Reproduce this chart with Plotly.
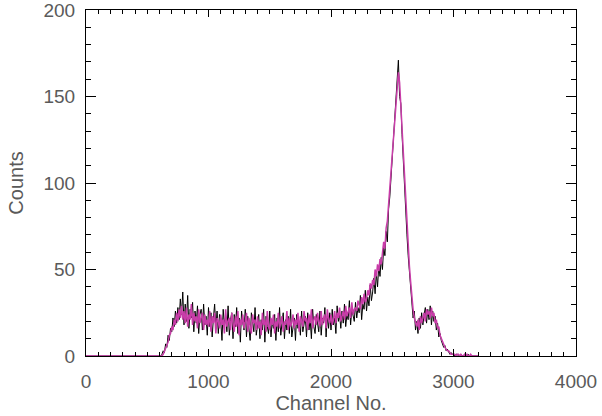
import plotly.graph_objects as go

# Channel numbers: leading zero channel, then every 10 channels from 560 to 3200
channels = [0] + list(range(560, 3201, 10))

# Black spectrum (counts)
counts_black = [0,
    0, 0, 0, 0,
    0, 0, 1, 3, 2, 7, 5, 12, 9, 16,
    14, 22, 17, 26, 19, 28, 21, 33, 24, 37,
    18, 30, 20, 35, 16, 27, 22, 31, 14, 26,
    19, 29, 13, 24, 27, 15, 30, 18, 23, 12,
    28, 17, 25, 11, 22, 30, 16, 26, 13, 24,
    20, 9, 27, 18, 23, 14, 29, 12, 21, 25,
    10, 24, 17, 28, 13, 22, 8, 26, 19, 15,
    27, 11, 23, 16, 9, 25, 20, 14, 28, 12,
    18, 24, 10, 21, 15, 27, 8, 23, 17, 13,
    26, 11, 20, 16, 24, 9, 22, 14, 28, 12,
    19, 25, 10, 21, 15, 23, 13, 27, 11, 18,
    22, 9, 24, 16, 20, 12, 26, 14, 19, 23,
    11, 25, 15, 21, 10, 27, 17, 13, 24, 18,
    14, 26, 12, 22, 19, 28, 11, 23, 16, 25,
    15, 27, 18, 22, 13, 29, 20, 24, 16, 26,
    19, 30, 17, 24, 21, 32, 18, 27, 23, 20,
    31, 22, 28, 25, 35, 21, 30, 27, 38, 26,
    34, 29, 41, 32, 37, 45, 36, 48, 40, 52,
    46, 57, 50, 63, 58, 72, 66, 85, 92, 104,
    112, 128, 138, 152, 158, 171, 150, 146, 128, 112,
    98, 82, 70, 58, 49, 40, 31, 22, 26, 15,
    20, 13, 22, 16, 25, 18, 24, 28, 19, 27,
    21, 29, 18, 26, 20, 23, 15, 19, 11, 13,
    9, 7, 5, 6, 3, 4, 2, 1, 2, 1,
    1, 0, 1, 1, 0, 0, 1, 0, 0, 0,
    0, 0, 1, 0, 0, 0, 0, 0, 0, 0,
    0]

# Magenta spectrum (counts)
counts_magenta = [0,
    0, 0, 0, 0,
    0, 0, 0, 1, 3, 4, 7, 8, 12, 13,
    17, 15, 21, 18, 25, 20, 27, 22, 29, 21,
    26, 19, 28, 17, 24, 21, 30, 18, 25, 20,
    23, 16, 27, 19, 22, 25, 15, 24, 18, 21,
    17, 26, 14, 23, 19, 25, 13, 22, 20, 16,
    24, 18, 21, 13, 27, 17, 20, 22, 15, 25,
    19, 14, 23, 17, 26, 12, 21, 18, 24, 16,
    20, 25, 14, 22, 17, 13, 24, 19, 21, 15,
    23, 16, 20, 12, 25, 18, 21, 14, 26, 17,
    15, 22, 18, 24, 13, 20, 17, 25, 16, 21,
    23, 14, 20, 18, 26, 15, 22, 17, 19, 24,
    16, 21, 18, 25, 14, 23, 19, 17, 26, 20,
    22, 15, 24, 19, 27, 16, 21, 23, 18, 25,
    20, 17, 26, 18, 22, 24, 16, 27, 21, 19,
    24, 18, 21, 26, 19, 25, 22, 28, 20, 23,
    26, 21, 29, 23, 25, 28, 22, 31, 24, 27,
    28, 26, 32, 29, 27, 34, 30, 36, 31, 33,
    38, 35, 42, 39, 44, 41, 50, 46, 53, 49,
    56, 53, 60, 66, 62, 74, 78, 88, 96, 108,
    118, 126, 140, 150, 160, 164, 158, 145, 132, 115,
    100, 86, 74, 62, 52, 43, 34, 27, 22, 19,
    17, 21, 15, 23, 19, 22, 25, 20, 27, 24,
    26, 22, 28, 23, 25, 19, 21, 16, 17, 12,
    10, 8, 7, 5, 4, 3, 3, 2, 1, 1,
    1, 1, 0, 1, 1, 0, 1, 0, 0, 1,
    0, 1, 0, 0, 1, 0, 0, 0, 0, 0,
    0]

x_tickvals = [0, 1000, 2000, 3000, 4000]
y_tickvals = [0, 50, 100, 150, 200]

font_family = "Liberation Sans"
text_color = "#5a5a5a"

fig = go.Figure()
fig.add_trace(go.Scatter(x=channels, y=counts_black, mode="lines",
                         line=dict(color="#000000", width=1), showlegend=False))
fig.add_trace(go.Scatter(x=channels, y=counts_magenta, mode="lines",
                         line=dict(color="#C83CA8", width=1.5), showlegend=False))

fig.update_layout(
    width=602, height=416,
    margin=dict(l=86, r=26, t=10, b=60),
    paper_bgcolor="white", plot_bgcolor="white",
    font=dict(family=font_family, color=text_color, size=19),
)
fig.update_xaxes(
    range=[0, 4000], tickvals=x_tickvals, ticktext=[str(v) for v in x_tickvals],
    ticks="inside", ticklen=7, tickcolor="black", tickwidth=1,
    minor=dict(dtick=100, ticks="inside", ticklen=4, tickcolor="black", showgrid=False),
    showline=True, linecolor="black", linewidth=1, mirror="allticks",
    showgrid=False, zeroline=False, automargin=False,
    ticklabelstandoff=8, ticklabeloverflow="allow",
    title=dict(text="Channel No.", font=dict(size=20, color=text_color), standoff=3),
)
fig.update_yaxes(
    range=[0, 200], tickvals=y_tickvals, ticktext=[str(v) for v in y_tickvals],
    ticks="inside", ticklen=10, tickcolor="black", tickwidth=1,
    minor=dict(dtick=10, ticks="inside", ticklen=5, tickcolor="black", showgrid=False),
    showline=True, linecolor="black", linewidth=1, mirror="allticks",
    showgrid=False, zeroline=False, automargin=False,
    ticklabelstandoff=6, ticklabeloverflow="allow",
    title=dict(text="Counts", font=dict(size=20, color=text_color), standoff=14),
)

fig.write_html("out.html")
